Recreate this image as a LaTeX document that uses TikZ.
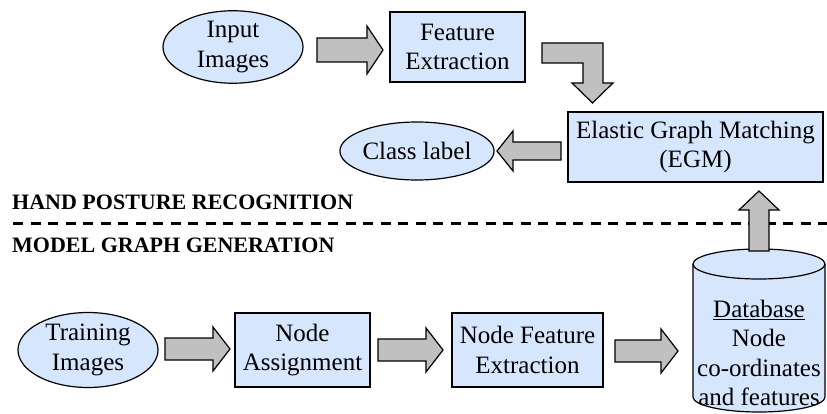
\documentclass[tikz,border=0pt]{standalone}
\usepackage{fontspec}
\setmainfont{Liberation Serif}
\usetikzlibrary{shapes.geometric}
\definecolor{boxblue}{RGB}{214,230,252}
\definecolor{arrowgrey}{RGB}{192,192,192}

% horizontal block arrow: start x, head base x, tip x, centre y, body half, head half
\newcommand{\hblock}[6]{%
  \filldraw[blockarrow] (#1,#4-#5) -- (#2,#4-#5) -- (#2,#4-#6) -- (#3,#4)
    -- (#2,#4+#6) -- (#2,#4+#5) -- (#1,#4+#5) -- cycle;}
% vertical block arrow: centre x, start y, head base y, tip y, body half, head half
\newcommand{\vblock}[6]{%
  \filldraw[blockarrow] (#1-#5,#2) -- (#1-#5,#3) -- (#1-#6,#3) -- (#1,#4)
    -- (#1+#6,#3) -- (#1+#5,#3) -- (#1+#5,#2) -- cycle;}

\begin{document}
\begin{tikzpicture}[x=1pt,y=-1pt,
  every node/.style={font=\fontsize{25}{29.5}\selectfont, align=center, inner sep=0pt},
  outline/.style={draw=black, line width=1.2pt},
  procbox/.style={outline, fill=boxblue, rectangle},
  imgoval/.style={outline, fill=boxblue, ellipse},
  blockarrow/.style={draw=black, line width=1.2pt, fill=arrowgrey, line join=miter},
  section/.style={font=\fontsize{22}{24}\selectfont\bfseries, anchor=base west}]

\useasboundingbox (0,0) rectangle (827,414);

% ---- recognition stage ----
\node[imgoval, minimum width=140pt, minimum height=70pt] (inimg) at (233,47) {Input\\Images};
\node[procbox, minimum width=135pt, minimum height=70pt] (featext) at (457.5,47) {Feature\\Extraction};
\node[procbox, minimum width=255pt, minimum height=70pt] (egm) at (695.5,147) {Elastic Graph Matching\\(EGM)};
\node[imgoval, minimum width=130pt, minimum height=58pt] (cls) at (417,151) {Class label};

\hblock{317}{367}{383}{50}{12}{24}
\filldraw[blockarrow] (542,43) -- (603,43) -- (603,83) -- (613,83) -- (592.5,103)
  -- (572,83) -- (583,83) -- (583,63) -- (542,63) -- cycle;
\hblock{561}{513}{497}{151}{9}{20}

% ---- stage labels and divider ----
\node[section] (hpr) at (12,210) {HAND POSTURE RECOGNITION};
\draw[line width=3pt, dash pattern=on 10pt off 7.5pt] (13,224) -- (827,224);
\node[section] (mgg) at (12,252) {MODEL GRAPH GENERATION};

% ---- model graph generation stage ----
\node[imgoval, minimum width=140pt, minimum height=75pt] (train) at (88,350) {Training\\Images};
\node[procbox, minimum width=135pt, minimum height=74pt] (nassign) at (302.5,350) {Node\\Assignment};
\node[procbox, minimum width=151pt, minimum height=74pt] (nfe) at (527.5,350) {Node Feature\\Extraction};

\hblock{165}{213}{230}{349}{11}{22}
\hblock{378}{426}{443}{350}{11}{22}
\hblock{615}{661}{678}{351}{11}{22}

% database cylinder
\filldraw[outline, fill=boxblue] (693,264) -- (693,397)
  arc[start angle=180, end angle=0, x radius=66, y radius=15]
  -- (825,264) arc[start angle=0, end angle=-180, x radius=66, y radius=15] -- cycle;
\draw[outline] (693,264) arc[start angle=180, end angle=0, x radius=66, y radius=15];
\node (db) at (759,353) {\underline{Database}\\Node\\co-ordinates\\and features};

\vblock{759}{251}{210}{191}{10}{20}

\end{tikzpicture}
\end{document}
